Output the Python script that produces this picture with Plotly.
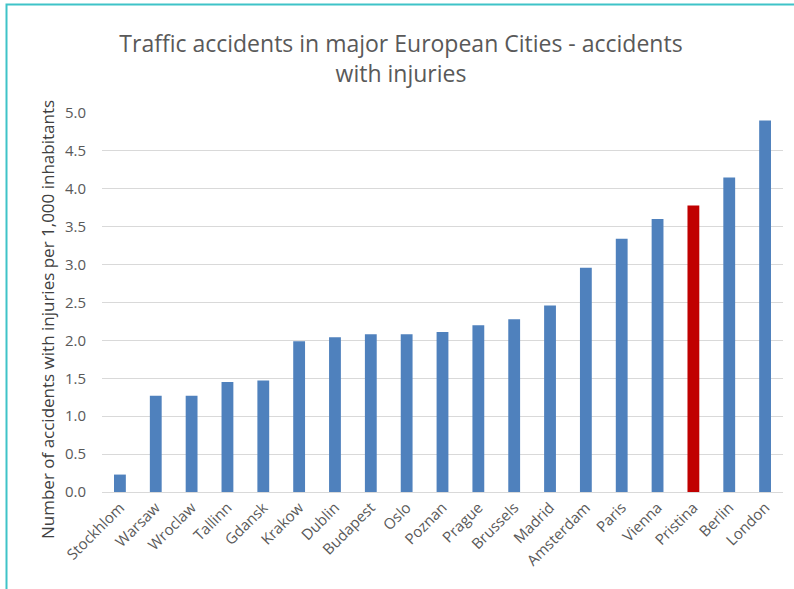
import plotly.graph_objects as go

# Accidents with injuries per 1,000 inhabitants, by city
cities = ["Stockhlom", "Warsaw", "Wroclaw", "Tallinn", "Gdansk", "Krakow", "Dublin",
          "Budapest", "Oslo", "Poznan", "Prague", "Brussels", "Madrid", "Amsterdam",
          "Paris", "Vienna", "Pristina", "Berlin", "London"]
accidents = [0.23, 1.27, 1.27, 1.45, 1.47, 1.99, 2.04, 2.08, 2.08, 2.11, 2.20, 2.28,
             2.46, 2.96, 3.34, 3.60, 3.78, 4.15, 4.90]
highlight_city = "Pristina"

y_ticks = [0.0, 0.5, 1.0, 1.5, 2.0, 2.5, 3.0, 3.5, 4.0, 4.5, 5.0]

BLUE = "#4F81BD"
RED = "#C00000"
GREY_TEXT = "#595959"
GRID = "#D9D9D9"
FRAME = "#3FC3C8"

W, H = 794, 589
M_L, M_R, M_T, M_B = 102, 11, 113, 97
plot_w = W - M_L - M_R
plot_h = H - M_T - M_B


def px_x(x):
    return (x - M_L) / plot_w


def px_y(y):
    return (H - M_B - y) / plot_h


colors = [RED if c == highlight_city else BLUE for c in cities]

fig = go.Figure(go.Bar(x=cities, y=accidents, marker=dict(color=colors, line=dict(width=0))))

fig.update_layout(
    width=W, height=H,
    margin=dict(l=M_L, r=M_R, t=M_T, b=M_B),
    paper_bgcolor="white", plot_bgcolor="white",
    font=dict(family="Open Sans", color=GREY_TEXT),
    bargap=0.67,
    showlegend=False,
    title=dict(
        text="Traffic accidents in major European Cities - accidents<br>with injuries",
        x=0.505, xanchor="center", xref="container",
        y=1 - 52 / H, yanchor="top", yref="container",
        font=dict(size=23, color=GREY_TEXT),
    ),
)

fig.update_xaxes(
    tickangle=-45, tickfont=dict(size=15, color=GREY_TEXT),
    showline=True, linecolor=GRID, linewidth=1, showgrid=False, ticks="",
)
fig.update_yaxes(
    range=[0, 5], tickvals=y_ticks, ticktext=[f"{v:.1f}" for v in y_ticks],
    tickfont=dict(size=15, color=GREY_TEXT), ticklabelstandoff=15,
    showgrid=True, gridcolor=GRID, gridwidth=1, zeroline=False, showline=False,
)

# Rotated axis caption
fig.add_annotation(
    text="Number of accidents with injuries per 1,000 inhabitants",
    textangle=-90, xref="paper", yref="paper",
    x=px_x(47), y=px_y(320), xanchor="center", yanchor="middle",
    showarrow=False, font=dict(size=17, color="#404040"),
)

# Teal frame around the chart (only top and left edges fall inside the view)
fig.add_shape(
    type="rect", xref="paper", yref="paper",
    x0=px_x(6.5), y0=px_y(H + 20), x1=px_x(W + 20), y1=px_y(4.5),
    line=dict(color=FRAME, width=2), fillcolor="rgba(0,0,0,0)", layer="above",
)

fig.write_html("out.html")
